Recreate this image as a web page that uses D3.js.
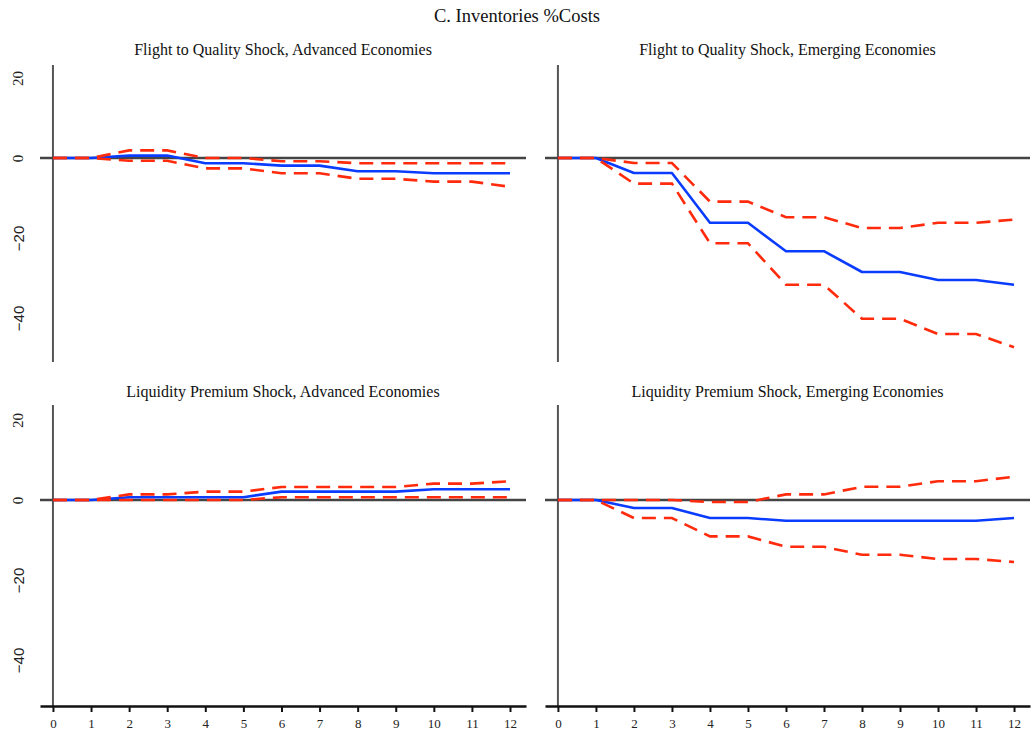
<!DOCTYPE html>
<html>
<head>
<meta charset="utf-8">
<script src="https://cdn.jsdelivr.net/npm/d3@7"></script>
<style>
  html, body { margin: 0; padding: 0; background: #fff; }
  svg { display: block; }
</style>
</head>
<body>
<svg id="chart" width="1032" height="740"></svg>
<script>
// ---------------- data ----------------
const mainTitle = "C. Inventories %Costs";
const panelTitles = [
  "Flight to Quality Shock, Advanced Economies",
  "Flight to Quality Shock, Emerging Economies",
  "Liquidity Premium Shock, Advanced Economies",
  "Liquidity Premium Shock, Emerging Economies"
];
const periods = [0, 1, 2, 3, 4, 5, 6, 7, 8, 9, 10, 11, 12];
const yTicks = [20, 0, -20, -40];

// Flight to Quality, Advanced
const ftqAdvIrf   = [0, 0, 0.6, 0.6, -1.3, -1.3, -1.9, -1.9, -3.3, -3.3, -3.8, -3.8, -3.8];
const ftqAdvUpper = [0, 0, 1.9, 1.9, 0, 0, -0.8, -0.8, -1.3, -1.3, -1.3, -1.3, -1.3];
const ftqAdvLower = [0, 0, -0.7, -0.7, -2.6, -2.6, -3.8, -3.8, -5.2, -5.2, -5.9, -5.9, -7.2];

// Flight to Quality, Emerging
const ftqEmIrf   = [0, 0, -3.75, -3.75, -16.2, -16.2, -23.3, -23.3, -28.5, -28.5, -30.5, -30.5, -31.7];
const ftqEmUpper = [0, 0, -1.25, -1.25, -10.9, -10.9, -14.8, -14.8, -17.5, -17.5, -16.2, -16.2, -15.4];
const ftqEmLower = [0, 0, -6.4, -6.4, -21.3, -21.3, -31.7, -31.7, -40.2, -40.2, -44, -44, -47.3];

// Liquidity Premium, Advanced
const lpAdvIrf   = [0, 0, 0.7, 0.7, 0.7, 0.7, 2.1, 2.1, 2.1, 2.1, 2.7, 2.7, 2.7];
const lpAdvUpper = [0, 0, 1.4, 1.4, 2.1, 2.1, 3.25, 3.25, 3.25, 3.25, 4.1, 4.1, 4.7];
const lpAdvLower = [0, 0, 0, 0, 0, 0, 0.7, 0.7, 0.7, 0.7, 0.7, 0.7, 0.7];

// Liquidity Premium, Emerging
const lpEmIrf   = [0, 0, -2, -2, -4.5, -4.5, -5.2, -5.2, -5.2, -5.2, -5.2, -5.2, -4.5];
const lpEmUpper = [0, 0, 0, 0, -0.5, -0.5, 1.4, 1.4, 3.3, 3.3, 4.7, 4.7, 5.8];
const lpEmLower = [0, 0, -4.5, -4.5, -9.1, -9.1, -11.7, -11.7, -13.7, -13.7, -14.75, -14.75, -15.5];

// ---------------- layout ----------------
const panels = [
  { title: panelTitles[0], irf: ftqAdvIrf, upper: ftqAdvUpper, lower: ftqAdvLower, col: 0, row: 0 },
  { title: panelTitles[1], irf: ftqEmIrf,  upper: ftqEmUpper,  lower: ftqEmLower,  col: 1, row: 0 },
  { title: panelTitles[2], irf: lpAdvIrf,  upper: lpAdvUpper,  lower: lpAdvLower,  col: 0, row: 1 },
  { title: panelTitles[3], irf: lpEmIrf,   upper: lpEmUpper,   lower: lpEmLower,   col: 1, row: 1 }
];
const colX = [[40, 526], [545, 1030]];
const rowY = [
  { top: 65, bottom: 362, dom: [-51, 23.25], titleY: 55 },
  { top: 405, bottom: 706, dom: [-51.5, 23.75], titleY: 397 }
];
const xDomain = [-0.34, 12.42];

const BLUE = "#0a3cff";
const RED = "#ff2b0c";
const serif = "'Liberation Serif', 'DejaVu Serif', serif";
const sans = "'Liberation Sans', Arial, sans-serif";

const svg = d3.select("#chart");

svg.append("text")
  .attr("x", 517).attr("y", 22)
  .attr("text-anchor", "middle")
  .attr("font-family", serif)
  .attr("font-size", 18.5)
  .attr("fill", "#111")
  .text(mainTitle);

panels.forEach(p => {
  const [x0, x1] = colX[p.col];
  const r = rowY[p.row];
  const x = d3.scaleLinear().domain(xDomain).range([x0, x1]);
  const y = d3.scaleLinear().domain(r.dom).range([r.bottom, r.top]);
  const g = svg.append("g");

  // panel title
  g.append("text")
    .attr("x", (x0 + x1) / 2).attr("y", r.titleY)
    .attr("text-anchor", "middle")
    .attr("font-family", serif)
    .attr("font-size", 16)
    .attr("fill", "#111")
    .text(p.title);

  // vertical y axis line
  g.append("line")
    .attr("x1", x(0)).attr("x2", x(0))
    .attr("y1", r.top).attr("y2", r.bottom)
    .attr("stroke", "#555").attr("stroke-width", 2);

  // zero line
  g.append("line")
    .attr("x1", x0).attr("x2", x1)
    .attr("y1", y(0)).attr("y2", y(0))
    .attr("stroke", "#444").attr("stroke-width", 2.5);

  // y tick labels (left panels only)
  if (p.col === 0) {
    const ay = g.append("g")
      .attr("transform", "translate(18,0)")
      .call(d3.axisLeft(y).tickValues(yTicks).tickSize(0).tickPadding(0).tickFormat(d3.format("d")));
    ay.select(".domain").remove();
    ay.selectAll(".tick line").remove();
    ay.selectAll(".tick text")
      .attr("x", 0).attr("dy", null)
      .attr("transform", "rotate(-90)")
      .attr("text-anchor", "middle")
      .attr("dominant-baseline", "central")
      .attr("font-size", 15)
      .attr("fill", "#222")
      .attr("font-family", d => d < 0 ? sans : serif);
  }

  // x axis (bottom row only)
  if (p.row === 1) {
    const ax = g.append("g")
      .attr("transform", `translate(0,${r.bottom})`)
      .call(d3.axisBottom(x).tickValues(periods).tickSize(6).tickSizeOuter(0).tickPadding(7));
    ax.select(".domain").attr("stroke", "#111").attr("stroke-width", 2.5);
    ax.selectAll(".tick line").attr("stroke", "#111").attr("stroke-width", 2);
    ax.selectAll(".tick text")
      .attr("font-family", serif)
      .attr("font-size", 13)
      .attr("fill", "#222");
  }

  const line = d3.line()
    .x((d, i) => x(periods[i]))
    .y(d => y(d));

  g.append("path").datum(p.irf)
    .attr("d", line).attr("fill", "none")
    .attr("stroke", BLUE).attr("stroke-width", 2.6)
    .attr("stroke-linejoin", "round");

  [p.upper, p.lower].forEach(band => {
    g.append("path").datum(band)
      .attr("d", line).attr("fill", "none")
      .attr("stroke", RED).attr("stroke-width", 2.6)
      .attr("stroke-dasharray", "14,8");
  });
});
</script>
</body>
</html>
